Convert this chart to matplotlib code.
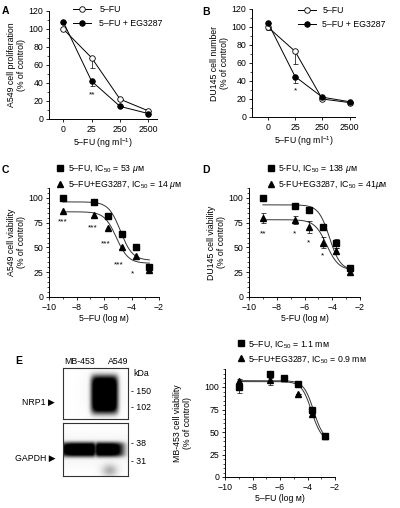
import numpy as np
import matplotlib
matplotlib.use('Agg')
import matplotlib.pyplot as plt
from matplotlib.ticker import MultipleLocator

plt.rcParams['font.family'] = ['Liberation Sans', 'DejaVu Sans']
plt.rcParams['mathtext.fontset'] = 'custom'
plt.rcParams['mathtext.rm'] = 'Liberation Sans'
plt.rcParams['mathtext.it'] = 'Liberation Sans:italic'
plt.rcParams['axes.linewidth'] = 0.7

# ---------------- data ----------------
dose_labels = ['0', '25', '250', '2500']

a_fu = [100, 68, 22, 9]
a_fu_err = [0, 11, 0, 0]
a_eg = [108, 42, 14, 6]
a_eg_err = [0, 5, 0, 0]
a_stars = ['', '**', '', '']
a_star_y = [0, 27, 0, 0]

b_fu = [100, 73, 20, 16]
b_fu_err = [3, 14, 0, 0]
b_eg = [105, 45, 22, 17]
b_eg_err = [0, 7, 0, 0]
b_stars = ['', '*', '', '']
b_star_y = [0, 29, 0, 0]

logdose = [-9, -6.7, -5.7, -4.7, -3.7, -2.7]

c_fu = [100, 96, 82, 64, 50, 30]
c_eg = [87, 83, 70, 50, 41, 27]
c_stars = ['***', '***', '***', '***', '*', '']
c_star_x = [-9.0, -6.8, -5.85, -4.95, -3.9, -2.7]
c_star_y = [76, 70, 54, 32, 23, 0]
c_fit_fu = dict(top=96, bottom=37, logec=-4.8, hill=1.0)
c_fit_eg = dict(top=86, bottom=34, logec=-5.1, hill=1.0)

d_fu = [100, 92, 88, 71, 54, 29]
d_fu_err = [0, 0, 0, 0, 5, 3]
d_eg = [80, 78, 71, 55, 46, 25]
d_eg_err = [5, 4, 6, 6, 3, 3]
d_stars = ['**', '*', '*', '*', '', '']
d_star_x = [-9.0, -6.7, -5.7, -4.7, -3.7, -2.7]
d_star_y = [64, 64, 55, 41, 0, 0]
d_fit_fu = dict(top=93, bottom=27, logec=-4.2, hill=1.1)
d_fit_eg = dict(top=78, bottom=27, logec=-4.4, hill=1.0)

e_fu = [100, 114, 110, 103, 75, 46]
e_fu_err = [7, 4, 2, 0, 0, 0]
e_eg = [107, 108, 110, 92, 70, 46]
e_eg_err = [2, 6, 0, 0, 0, 0]
e_fit_fu = dict(top=107, bottom=40, logec=-3.55, hill=1.2)
e_fit_eg = dict(top=106, bottom=40, logec=-3.7, hill=1.2)

W, H = 400, 508
fig = plt.figure(figsize=(W / 100, H / 100), dpi=100)
FS = 6.3
SFS = 6.0


def px_axes(l, t, r, b):
    return fig.add_axes([l / W, 1 - b / H, (r - l) / W, (b - t) / H])


def ft(x, y, s, **kw):
    kw.setdefault('fontsize', FS)
    kw.setdefault('va', 'center')
    return fig.text(x / W, 1 - y / H, s, **kw)


def style(ax, ymaj, ymin, xminor=None):
    for s in ['top', 'right']:
        ax.spines[s].set_visible(False)
    ax.yaxis.set_major_locator(MultipleLocator(ymaj))
    ax.yaxis.set_minor_locator(MultipleLocator(ymin))
    if xminor:
        ax.xaxis.set_minor_locator(MultipleLocator(xminor))
    ax.tick_params(which='major', length=2.5, width=0.6, labelsize=FS, pad=1.5)
    ax.tick_params(which='minor', length=1.3, width=0.5)


def hill(x, p):
    return p['bottom'] + (p['top'] - p['bottom']) / (1 + 10 ** ((x - p['logec']) * p['hill']))


# ---------------- Panels A, B ----------------
def dose_panel(ax, fu, fu_err, eg, eg_err, stars, star_y, ylabel, xlim):
    x = np.arange(len(dose_labels))
    ax.errorbar(x, fu, yerr=[fu_err, [0] * len(fu)], fmt='none', ecolor='black',
                elinewidth=0.5, capsize=1.8, capthick=0.5, zorder=2)
    ax.errorbar(x, eg, yerr=[eg_err, [0] * len(eg)], fmt='none', ecolor='black',
                elinewidth=0.5, capsize=1.8, capthick=0.5, zorder=2)
    ax.plot(x, fu, '-o', color='black', lw=0.7, ms=4, mfc='white', mec='black', mew=0.6,
            label='5\u2013FU', zorder=3)
    ax.plot(x, eg, '-o', color='black', lw=0.7, ms=4, mfc='black', mec='black', mew=0.6,
            label='5\u2013FU + EG3287', zorder=4)
    for xi, s, yy in zip(x, stars, star_y):
        if s:
            ax.text(xi, yy, s, ha='center', va='center', fontsize=SFS)
    ax.set_xticks(x)
    ax.set_xticklabels(dose_labels)
    ax.set_xlim(*xlim)
    ax.set_ylim(0, 120)
    style(ax, 20, 10)
    ax.set_ylabel(ylabel, fontsize=FS, labelpad=2, linespacing=1.1)
    ax.set_xlabel('5\u2013FU (ng ml$^{-1}$)', fontsize=FS, labelpad=2)


axA = px_axes(49, 11, 157, 119)
dose_panel(axA, a_fu, a_fu_err, a_eg, a_eg_err, a_stars, a_star_y,
           'A549 cell proliferation\n(% of control)', (-0.5, 3.3))
axA.legend(loc='upper left', bbox_to_anchor=(73 / W, 1 - 5 / H), bbox_transform=fig.transFigure,
           frameon=False, fontsize=FS, handlelength=2.0, handletextpad=1.0, borderpad=0,
           labelspacing=0.6, borderaxespad=0)

axB = px_axes(252, 9, 355, 117)
dose_panel(axB, b_fu, b_fu_err, b_eg, b_eg_err, b_stars, b_star_y,
           'DU145 cell number\n(% of control)', (-0.58, 3.2))
axB.legend(loc='upper left', bbox_to_anchor=(298 / W, 1 - 6 / H), bbox_transform=fig.transFigure,
           frameon=False, fontsize=FS, handlelength=2.0, handletextpad=0.8, borderpad=0,
           labelspacing=0.6, borderaxespad=0)


# ---------------- Panels C, D, E ----------------
def viab_panel(ax, fu, eg, fit_fu, fit_eg, fu_err, eg_err, ylabel, ylim, ymaj, lab_fu, lab_eg,
               xlabel='5\u2013FU (log \u1d0d)'):
    xs = np.linspace(-9, -2.7, 200)
    ax.plot(xs, hill(xs, fit_fu), color='#333333', lw=0.7, zorder=2)
    ax.plot(xs, hill(xs, fit_eg), color='#333333', lw=0.7, zorder=2)
    if fu_err is not None:
        ax.errorbar(logdose, fu, yerr=fu_err, fmt='none', ecolor='black', elinewidth=0.5,
                    capsize=1.8, capthick=0.5, zorder=3)
    if eg_err is not None:
        ax.errorbar(logdose, eg, yerr=eg_err, fmt='none', ecolor='black', elinewidth=0.5,
                    capsize=1.8, capthick=0.5, zorder=3)
    ax.plot(logdose, fu, 's', color='black', ms=4.2, label=lab_fu, zorder=4)
    ax.plot(logdose, eg, '^', color='black', ms=4.4, label=lab_eg, zorder=4)
    ax.set_xlim(-10, -2)
    ax.set_ylim(*ylim)
    ax.set_xticks([-10, -8, -6, -4, -2])
    ax.set_xticklabels(['\u221210', '\u22128', '\u22126', '\u22124', '\u22122'])
    style(ax, ymaj, 5, 1)
    ax.set_ylabel(ylabel, fontsize=FS, labelpad=2, linespacing=1.1)
    ax.set_xlabel(xlabel, fontsize=FS, labelpad=2)


axC = px_axes(49, 188, 159, 297)
viab_panel(axC, c_fu, c_eg, c_fit_fu, c_fit_eg, None, None,
           'A549 cell viability\n(% of control)', (0, 110), 25,
           '5\u2013FU, IC$_{50}$ = 53 $\\mathit{\u03bc}$\u1d0d',
           '5\u2013FU+EG3287, IC$_{50}$ = 14 $\\mathit{\u03bc}$\u1d0d')
for xx, s, yy in zip(c_star_x, c_stars, c_star_y):
    if s:
        axC.text(xx, yy, s, ha='center', va='center', fontsize=SFS)
axC.legend(loc='upper left', bbox_to_anchor=(57 / W, 1 - 163 / H), bbox_transform=fig.transFigure,
           frameon=False, fontsize=FS, handlelength=0.7, handletextpad=0.5, borderpad=0,
           labelspacing=0.45, borderaxespad=0)

axD = px_axes(249, 188, 360, 297)
viab_panel(axD, d_fu, d_eg, d_fit_fu, d_fit_eg, d_fu_err, d_eg_err,
           'DU145 cell viability\n(% of control)', (0, 110), 25,
           '5-FU, IC$_{50}$ = 138 $\\mathit{\u03bc}$\u1d0d',
           '5-FU+EG3287, IC$_{50}$ = 41$\\mathit{\u03bc}$\u1d0d',
           xlabel='5-FU (log \u1d0d)')
for xx, s, yy in zip(d_star_x, d_stars, d_star_y):
    if s:
        axD.text(xx, yy, s, ha='center', va='center', fontsize=SFS)
axD.legend(loc='upper left', bbox_to_anchor=(268 / W, 1 - 163 / H), bbox_transform=fig.transFigure,
           frameon=False, fontsize=FS, handlelength=0.7, handletextpad=0.5, borderpad=0,
           labelspacing=0.45, borderaxespad=0)

axE = px_axes(225, 369, 335, 477)
viab_panel(axE, e_fu, e_eg, e_fit_fu, e_fit_eg, e_fu_err, e_eg_err,
           'MB-453 cell viability\n(% of control)', (0, 120), 25,
           '5\u2013FU, IC$_{50}$ = 1.1 m\u1d0d',
           '5\u2013FU+EG3287, IC$_{50}$ = 0.9 m\u1d0d')
axE.legend(loc='upper left', bbox_to_anchor=(238 / W, 1 - 339 / H), bbox_transform=fig.transFigure,
           frameon=False, fontsize=FS, handlelength=0.7, handletextpad=0.5, borderpad=0,
           labelspacing=0.45, borderaxespad=0)
axE.set_ylabel('MB-453 cell viability\n(% of control)', fontsize=FS, labelpad=9, linespacing=1.1)

# ---------------- Western blot images ----------------
bw1 = px_axes(63, 368, 128, 419)
bw2 = px_axes(63, 423, 128, 476)
yy, xx = np.mgrid[0:1:120j, 0:1:150j]
nrp1 = np.exp(-(((xx - 0.64) / 0.21) ** 6 + ((yy - 0.52) / 0.38) ** 6))
nrp1 = np.clip(nrp1 * 1.3, 0, 1)
nrp1 = nrp1 + 0.06 * np.exp(-(((xx - 0.64) / 0.3) ** 2 + ((yy - 0.5) / 0.5) ** 2))
gap = np.exp(-(((xx - 0.44) / 0.5) ** 8 + ((yy - 0.5) / 0.14) ** 4))
gap = gap * (1 - 0.35 * np.exp(-((xx - 0.5) / 0.03) ** 2))
gap = np.clip(gap * 1.2, 0, 1)
smear = 0.3 * np.exp(-(((xx - 0.72) / 0.12) ** 2 + ((yy - 0.9) / 0.12) ** 2))
gap = np.clip(gap + smear + 0.05 * np.exp(-((yy - 0.5) / 0.3) ** 2), 0, 1)
for ax, img in [(bw1, nrp1), (bw2, gap)]:
    ax.imshow(img, cmap='gray_r', vmin=0, vmax=1, aspect='auto', interpolation='bilinear')
    ax.set_xticks([])
    ax.set_yticks([])
    for s in ax.spines.values():
        s.set_linewidth(0.8)
        s.set_color('#333333')

ft(80, 361, 'MB-453', ha='center')
ft(118, 361, 'A549', ha='center')
ft(133, 373, 'kDa', ha='left')
ft(131, 391, '- 150', ha='left')
ft(131, 408, '- 102', ha='left')
ft(131, 443, '- 38', ha='left')
ft(131, 462, '- 31', ha='left')
ft(55, 402, 'NRP1 \u25b6', ha='right', fontsize=FS)
ft(55, 458, 'GAPDH \u25b6', ha='right', fontsize=FS)

# panel letters
ft(2, 11, 'A', fontweight='bold', fontsize=7.5)
ft(202, 12, 'B', fontweight='bold', fontsize=7.5)
ft(2, 170, 'C', fontweight='bold', fontsize=7.5)
ft(202, 170, 'D', fontweight='bold', fontsize=7.5)
ft(15, 361, 'E', fontweight='bold', fontsize=7.5)

fig.savefig('out.png', dpi=100)
